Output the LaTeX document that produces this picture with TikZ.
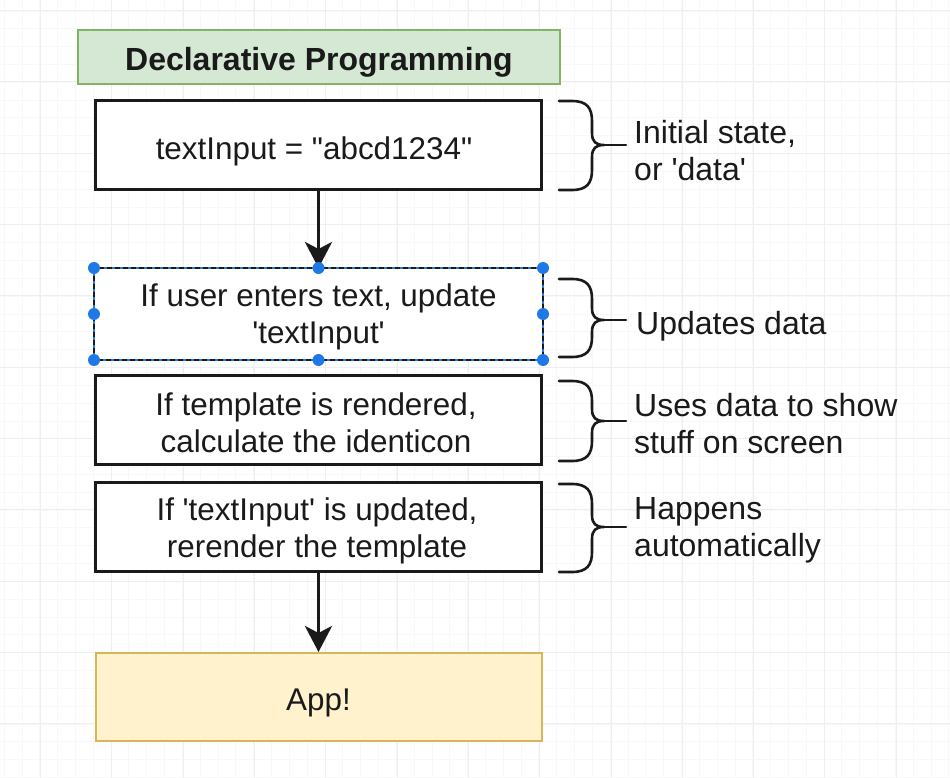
\documentclass[tikz,border=0pt]{standalone}
\usepackage{fontspec}
\setmainfont{Liberation Sans}
\usetikzlibrary{arrows.meta}
\definecolor{titlefill}{HTML}{D5E8D4}
\definecolor{titledraw}{HTML}{82B366}
\definecolor{appfill}{HTML}{FFF2CC}
\definecolor{appdraw}{HTML}{D6B656}
\definecolor{gridmajor}{HTML}{EFEFEF}
\definecolor{gridminor}{HTML}{F8F8F8}
\definecolor{selblue}{HTML}{1E78E6}
\definecolor{ink}{HTML}{1A1A1A}
\newcommand\sq{\textquotesingle}
\newcommand\dq{\textquotedbl}
\tikzset{
  stepbox/.style={draw=ink, line width=3pt, fill=white, minimum width=446pt, minimum height=89pt, inner sep=0pt},
  titlebox/.style={draw=titledraw, line width=1.5pt, fill=titlefill, minimum width=482pt, minimum height=54pt, inner sep=0pt},
  appbox/.style={draw=appdraw, line width=2pt, fill=appfill, minimum width=446pt, minimum height=88pt, inner sep=0pt},
  boxtext/.style={align=center, text=ink, font=\fontsize{31.4}{36.5}\selectfont, inner sep=0pt},
  titletext/.style={text=ink, font=\fontsize{32}{37}\selectfont\bfseries, inner sep=0pt},
  note/.style={anchor=west, align=left, text=ink, font=\fontsize{32}{37}\selectfont, inner sep=0pt},
  bracepath/.style={draw=ink, line width=2.6pt, line cap=round, line join=round},
  flow/.style={draw=ink, line width=3.5pt, -{Stealth[length=26pt,width=27pt,inset=7pt]}},
  handle/.style={circle, fill=selblue, minimum size=12pt, inner sep=0pt},
}
\newcommand\sidebrace[4]{% name, top, bottom, mid
  \coordinate (#1) at (626,#4);
  \path[bracepath] (559,#2) -- (572,#2) .. controls (587,#2) and (592,#2+7) .. (592,#2+20)
     -- (592,#4-12) .. controls (592,#4-3) and (596,#4) .. (604,#4)
     .. controls (596,#4) and (592,#4+3) .. (592,#4+12)
     -- (592,#3-20) .. controls (592,#3-7) and (587,#3) .. (572,#3) -- (559,#3);
  \path[bracepath] (604,#4) -- (#1);
}
\begin{document}
\begin{tikzpicture}[x=1pt,y=-1pt]
\useasboundingbox (0,0) rectangle (950,778);
\fill[white] (0,0) rectangle (950,778);
% grid
\foreach \i in {-2,...,54} {
  \draw[gridminor, line width=0.6pt] (4+17.825*\i,0) -- (4+17.825*\i,778);
  \draw[gridminor, line width=0.6pt] (0,-7+17.825*\i) -- (950,-7+17.825*\i);
}
\foreach \i in {-1,...,13} {
  \draw[gridmajor, line width=1pt] (40.6+71.3*\i,0) -- (40.6+71.3*\i,778);
  \draw[gridmajor, line width=1pt] (0,10.6+71.3*\i) -- (950,10.6+71.3*\i);
}
% title
\node[titlebox] (title) at (319,57) {};
\node[titletext] (titlet) at (319,62) {Declarative Programming};
% steps
\node[stepbox] (s1) at (318.5,145) {};
\node[boxtext] (t1) at (314,151) {textInput = \dq abcd1234\dq};
\node[stepbox, draw=none] (s2) at (318.5,314) {};
\draw[selblue, line width=1.2pt] (s2.north west) rectangle (s2.south east);
\draw[ink, line width=2.4pt, dash pattern=on 5pt off 3pt] (s2.north west) rectangle (s2.south east);
\node[boxtext] (t2) at (318.5,317) {If user enters text, update\\\sq textInput\sq};
\node[stepbox] (s3) at (318.5,420) {};
\node[boxtext] (t3) at (316,423) {If template is rendered,\\calculate the identicon};
\node[stepbox] (s4) at (318.5,527) {};
\node[boxtext] (t4) at (317,531) {If \sq textInput\sq{} is updated,\\rerender the template};
\node[appbox] (app) at (318.5,697) {};
\node[boxtext] (t5) at (318.5,703) {App!};
% arrows
\draw[flow] (s1.south) -- (s2.north);
\draw[flow] (s4.south) -- (app.north);
% selection handles
\foreach \a in {north west,north,north east,west,east,south west,south,south east}
  \node[handle] at (s2.\a) {};
% braces
\sidebrace{b1}{101}{190}{145}
\sidebrace{b2}{279}{357}{320}
\sidebrace{b3}{381}{461}{421}
\sidebrace{b4}{484}{572}{527}
% notes
\node[note] (n1) at (634,151) {Initial state,\\or \sq data\sq};
\node[note] (n2) at (636,326) {Updates data};
\node[note] (n3) at (634,424) {Uses data to show\\stuff on screen};
\node[note] (n4) at (634,530) {Happens\\automatically};
\end{tikzpicture}
\end{document}
